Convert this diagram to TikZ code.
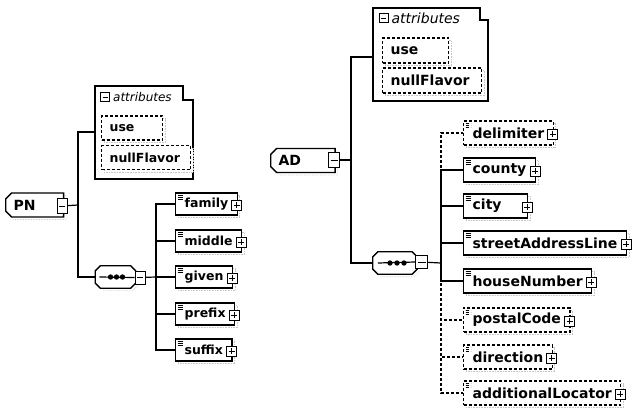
\documentclass[tikz,border=0pt]{standalone}
\usepackage{fontspec}
\setmainfont{DejaVu Sans}
\usetikzlibrary{positioning,shapes.misc,shadows}

\tikzset{
  sizing/.style={font=\bfseries\fontsize{12.5}{14}\selectfont, minimum height=22pt},
  shade/.style={copy shadow={shadow xshift=2.5pt, shadow yshift=-2.5pt, draw=gray!45, fill=white, line width=0.6pt, densely dotted}},
  elem/.style={draw, fill=white, line width=1.3pt, anchor=west, inner xsep=9pt, inner ysep=0pt, sizing, shade,
    path picture={\draw[line width=0.7pt]
      ([xshift=2pt,yshift=-2.5pt]path picture bounding box.north west) -- ++(5pt,0pt)
      ([xshift=2pt,yshift=-4.5pt]path picture bounding box.north west) -- ++(5pt,0pt)
      ([xshift=2pt,yshift=-6.5pt]path picture bounding box.north west) -- ++(5pt,0pt);}},
  optelem/.style={elem, dash pattern=on 3pt off 2pt},
  attr/.style={draw, fill=white, line width=1.2pt, dash pattern=on 3pt off 2pt, anchor=west, inner xsep=8pt, inner ysep=0pt, align=left, sizing, minimum height=24pt, shade},
  attrlabel/.style={inner sep=0pt, anchor=west},
  root/.style={chamfered rectangle, chamfered rectangle corners={north west,south west}, chamfered rectangle sep=3pt,
    draw, fill=white, line width=1.3pt, anchor=west, inner xsep=5pt, minimum height=24pt,
    font=\bfseries\fontsize{14}{16}\selectfont, shade},
  seqbox/.style={minimum width=40pt, minimum height=22pt, inner sep=0pt},
  octo/.style={line width=1.3pt, fill=white},
  plusbox/.style={draw, fill=white, line width=0.9pt, minimum width=10pt, minimum height=10pt, inner sep=0pt,
    path picture={\draw[line width=0.9pt]
      ([xshift=2pt]path picture bounding box.west) -- ([xshift=-2pt]path picture bounding box.east)
      ([yshift=-2pt]path picture bounding box.north) -- ([yshift=2pt]path picture bounding box.south);}},
  minusbox/.style={draw, fill=white, line width=0.9pt, minimum width=10pt, minimum height=15pt, inner sep=0pt,
    path picture={\draw[line width=1pt]
      ([xshift=2pt]path picture bounding box.west) -- ([xshift=-2pt]path picture bounding box.east);}},
  conn/.style={line width=1.2pt},
  optconn/.style={conn, dash pattern=on 3pt off 2pt}
}

\begin{document}
\begin{tikzpicture}[x=1pt, y=-1pt]
  \useasboundingbox (0,0) rectangle (636,407);

  % PN
  \begin{scope}
    \node[root] (pn) at (5,205) {PN\hspace*{20pt}};
    \node[minusbox] (pnm) at (62,206) {};

    % attributes
    \draw[line width=1.3pt] (95,86) -- (183,86) -- (183,100) -- (193,100) -- (193,179) -- (95,179) -- cycle;
    \node[minusbox, minimum height=9pt, minimum width=9pt] (attrLm) at (105,97) {};
    \node[attrlabel, font=\itshape\fontsize{12}{14}\selectfont, right=3pt of attrLm] (attrLt) {attributes};
    \node[attr, text width=45pt] (useL) at (101,128) {use};
    \node[attr, text width=73pt] (nullL) at (101,157.5) {nullFlavor};
    \coordinate (attrL) at (95,132);
    \coordinate (busL) at (78,205);

    % sequence
    \node[seqbox] (seqL) at (115.5,277) {};
    \draw[gray!45, line width=0.6pt, densely dotted] ([xshift=8pt,yshift=-2.5pt]seqL.south west) -- ([xshift=-3pt,yshift=-2.5pt]seqL.south east) -- ([xshift=2.5pt,yshift=3pt]seqL.south east);
    \draw[octo] ([xshift=5pt]seqL.north west) -- ([xshift=-5pt]seqL.north east) -- ([yshift=-5pt]seqL.north east)
      -- ([yshift=5pt]seqL.south east) -- ([xshift=-5pt]seqL.south east) -- ([xshift=5pt]seqL.south west)
      -- ([yshift=5pt]seqL.south west) -- ([yshift=-5pt]seqL.north west) -- cycle;
    \node[minusbox, minimum height=13pt] (seqLm) at (140,277.5) {};
    \draw[conn] ([xshift=4pt]seqL.west) -- (seqLm.west);
    \fill (seqL.center) ++(-5pt,0pt) circle[radius=2.7pt] ++(6pt,0pt) circle[radius=2.7pt] ++(6pt,0pt) circle[radius=2.7pt];
    \coordinate (kidsL) at (156,277);

    % children
    \node[elem] (family) at (175,204) {family};
    \node[elem] (middle) at (175,241) {middle};
    \node[elem] (given) at (175,277) {given};
    \node[elem] (prefix) at (175,314) {prefix};
    \node[elem] (suffix) at (175,350) {suffix};
    \node[plusbox] (familyp) at ([xshift=-1pt,yshift=-1pt]family.east) {};
    \node[plusbox] (middlep) at ([xshift=-1pt,yshift=-1pt]middle.east) {};
    \node[plusbox] (givenp) at ([xshift=-1pt,yshift=-1pt]given.east) {};
    \node[plusbox] (prefixp) at ([xshift=-1pt,yshift=-1pt]prefix.east) {};
    \node[plusbox] (suffixp) at ([xshift=-1pt,yshift=-1pt]suffix.east) {};

    % lines
    \draw[conn] (pnm) -- (busL);
    \draw[conn] (attrL) -| (busL) |- (seqL);
    \draw[conn] (seqLm) -- (kidsL);
    \draw[conn] (kidsL) |- (family);
    \draw[conn] (kidsL) |- (middle);
    \draw[conn] (kidsL) -- (given);
    \draw[conn] (kidsL) |- (prefix);
    \draw[conn] (kidsL) |- (suffix);
  \end{scope}

  % AD
  \begin{scope}[sizing/.style={font=\bfseries\fontsize{14}{16}\selectfont, minimum height=24pt}]
    \node[root] (ad) at (270,160.5) {AD\hspace*{26pt}};
    \node[minusbox, minimum width=11pt] (adm) at (334,160) {};

    % attributes
    \draw[line width=1.3pt] (373,8) -- (480,8) -- (480,20) -- (488,20) -- (488,101) -- (373,101) -- cycle;
    \node[minusbox, minimum height=9pt, minimum width=9pt] (attrRm) at (383.5,18) {};
    \node[attrlabel, font=\itshape\fontsize{14}{16}\selectfont, right=3pt of attrRm] (attrRt) {attributes};
    \node[attr, minimum height=25pt, text width=50pt] (useR) at (382,50.5) {use};
    \node[attr, minimum height=25pt, text width=83pt] (nullR) at (382,80.5) {nullFlavor};
    \coordinate (attrR) at (373,57);
    \coordinate (busR) at (351,160);

    % sequence
    \node[seqbox, minimum width=44pt] (seqR) at (395,263) {};
    \draw[gray!45, line width=0.6pt, densely dotted] ([xshift=8pt,yshift=-2.5pt]seqR.south west) -- ([xshift=-3pt,yshift=-2.5pt]seqR.south east) -- ([xshift=2.5pt,yshift=3pt]seqR.south east);
    \draw[octo] ([xshift=5pt]seqR.north west) -- ([xshift=-5pt]seqR.north east) -- ([yshift=-5pt]seqR.north east)
      -- ([yshift=5pt]seqR.south east) -- ([xshift=-5pt]seqR.south east) -- ([xshift=5pt]seqR.south west)
      -- ([yshift=5pt]seqR.south west) -- ([yshift=-5pt]seqR.north west) -- cycle;
    \node[minusbox, minimum height=13pt, minimum width=12pt] (seqRm) at (421.5,262) {};
    \draw[conn] ([xshift=5pt]seqR.west) -- (seqRm.west);
    \fill (seqR.center) ++(-5pt,0pt) circle[radius=2.7pt] ++(7pt,0pt) circle[radius=2.7pt] ++(7pt,0pt) circle[radius=2.7pt];
    \coordinate (kidsR) at (441,263);

    % children
    \node[optelem] (delimiter) at (463,133) {delimiter};
    \node[elem] (county) at (463,170) {county};
    \node[elem, text width=46pt] (city) at (463,206) {city};
    \node[elem] (street) at (463,243) {streetAddressLine};
    \node[elem] (house) at (463,281) {houseNumber};
    \node[optelem] (postal) at (463,320) {postalCode};
    \node[optelem] (direction) at (463,357) {direction};
    \node[optelem] (additional) at (463,393) {additionalLocator};
    \node[plusbox] (delimiterp) at ([xshift=-1pt,yshift=-1pt]delimiter.east) {};
    \node[plusbox] (countyp) at ([xshift=-1pt,yshift=-1pt]county.east) {};
    \node[plusbox] (cityp) at ([xshift=-1pt,yshift=-1pt]city.east) {};
    \node[plusbox] (streetp) at ([xshift=-1pt,yshift=-1pt]street.east) {};
    \node[plusbox] (housep) at ([xshift=-1pt,yshift=-1pt]house.east) {};
    \node[plusbox] (postalp) at ([xshift=-1pt,yshift=-1pt]postal.east) {};
    \node[plusbox] (directionp) at ([xshift=-1pt,yshift=-1pt]direction.east) {};
    \node[plusbox] (additionalp) at ([xshift=-1pt,yshift=-1pt]additional.east) {};

    % lines
    \draw[conn] (adm) -- (busR);
    \draw[conn] (attrR) -| (busR) |- (seqR);
    \draw[conn] (seqRm) -- (kidsR);
    \draw[optconn] (kidsR) |- (delimiter);
    \draw[optconn] (kidsR) |- (postal);
    \draw[optconn] (kidsR) |- (direction);
    \draw[optconn] (kidsR) |- (additional);
    \draw[conn] (kidsR) |- (county);
    \draw[conn] (kidsR) |- (city);
    \draw[conn] (kidsR) |- (street);
    \draw[conn] (kidsR) |- (house);
  \end{scope}
\end{tikzpicture}
\end{document}
